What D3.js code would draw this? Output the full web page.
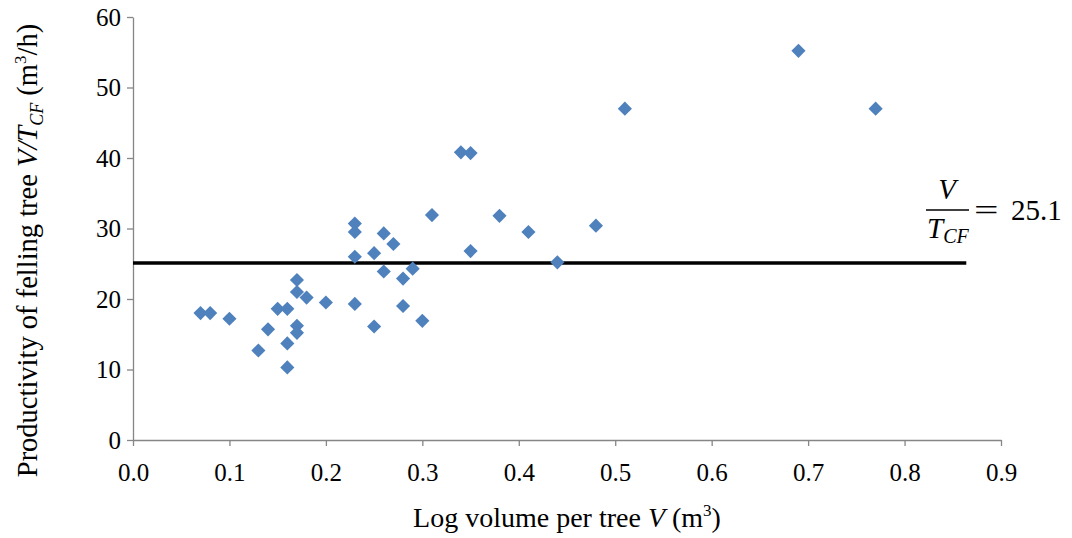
<!DOCTYPE html>
<html>
<head>
<meta charset="utf-8">
<script src="https://cdn.jsdelivr.net/npm/d3@7"></script>
<style>
  body { margin: 0; background: #fff; }
  text { font-family: "Liberation Serif", "Times New Roman", serif; fill: #000; }
</style>
</head>
<body>
<svg id="chart"></svg>
<script>
var width = 1072;
var height = 538;
var margin = { top: 17, right: 71, bottom: 98, left: 133 };

// log volume per tree (m3)
var volume = [0.07, 0.08, 0.10, 0.13, 0.14, 0.15, 0.16, 0.16, 0.16, 0.17,
              0.17, 0.17, 0.17, 0.18, 0.20, 0.23, 0.23, 0.23, 0.23, 0.25,
              0.25, 0.26, 0.26, 0.27, 0.28, 0.28, 0.29, 0.30, 0.31, 0.34,
              0.35, 0.35, 0.38, 0.41, 0.44, 0.48, 0.51, 0.69, 0.77];
// productivity V/TCF (m3/h)
var productivity = [18.0, 18.0, 17.2, 12.7, 15.7, 18.6, 18.6, 13.7, 10.3, 22.7,
                    21.0, 16.2, 15.2, 20.2, 19.5, 30.7, 29.5, 26.0, 19.3, 26.5,
                    16.1, 29.3, 23.9, 27.8, 22.9, 19.0, 24.3, 16.9, 31.9, 40.8,
                    40.7, 26.8, 31.8, 29.5, 25.2, 30.4, 47.0, 55.2, 47.0];

var xTicks = [0, 0.1, 0.2, 0.3, 0.4, 0.5, 0.6, 0.7, 0.8, 0.9];
var yTicks = [0, 10, 20, 30, 40, 50, 60];
var meanValue = 25.1;
var meanLineEnd = 0.864;

var points = volume.map(function(v, i) { return { v: v, p: productivity[i] }; });

var w = width - margin.left - margin.right;
var h = height - margin.top - margin.bottom;

var svg = d3.select('#chart')
  .attr('width', width)
  .attr('height', height);

var g = svg.append('g')
  .attr('transform', 'translate(' + margin.left + ',' + margin.top + ')');

var x = d3.scaleLinear().domain([0, 0.9]).range([0, w]);
var y = d3.scaleLinear().domain([0, 60]).range([h, 0]);

// x axis
var xAxis = g.append('g')
  .attr('transform', 'translate(0,' + h + ')')
  .call(d3.axisBottom(x).tickValues(xTicks).tickFormat(d3.format('.1f')).tickSize(6).tickSizeOuter(0));

// y axis
var yAxis = g.append('g')
  .call(d3.axisLeft(y).tickValues(yTicks).tickSize(6).tickSizeOuter(0));

[xAxis, yAxis].forEach(function(a) {
  a.attr('font-family', null).attr('font-size', null);
  a.select('.domain').attr('stroke', '#868686').attr('stroke-width', 1.3);
  a.selectAll('.tick line').attr('stroke', '#868686').attr('stroke-width', 1.3);
  a.selectAll('.tick text')
    .style('font-size', '25px')
    .attr('fill', '#000');
});
xAxis.selectAll('.tick text').attr('y', 0).attr('dy', 41);
yAxis.selectAll('.tick text').attr('x', -12).attr('dy', 8);

// mean line
g.append('line')
  .attr('x1', x(0))
  .attr('x2', x(meanLineEnd))
  .attr('y1', y(meanValue))
  .attr('y2', y(meanValue))
  .attr('stroke', '#000')
  .attr('stroke-width', 3.5);

// diamonds
var diamond = d3.symbol().type(d3.symbolSquare).size(100);
g.selectAll('.pt')
  .data(points)
  .enter()
  .append('path')
  .attr('class', 'pt')
  .attr('d', diamond)
  .attr('transform', function(d) { return 'translate(' + x(d.v) + ',' + y(d.p) + ') rotate(45)'; })
  .attr('fill', '#4F81BD');

// annotation  V / TCF = 25.1
var ann = svg.append('g').attr('transform', 'translate(947,0)');
ann.append('text')
  .attr('x', 0).attr('y', 199)
  .attr('text-anchor', 'middle')
  .style('font-size', '29px').style('font-style', 'italic')
  .text('V');
ann.append('line')
  .attr('x1', -21).attr('x2', 22)
  .attr('y1', 210).attr('y2', 210)
  .attr('stroke', '#000').attr('stroke-width', 1.4);
var tcf = ann.append('text')
  .attr('x', -20).attr('y', 238)
  .style('font-size', '29px').style('font-style', 'italic');
tcf.append('tspan').text('T');
tcf.append('tspan').attr('dy', 5).style('font-size', '20px').text('CF');
ann.append('text')
  .attr('transform', 'translate(27,220) scale(1.5,1)')
  .style('font-size', '29px')
  .text('=');
ann.append('text')
  .attr('x', 64).attr('y', 220)
  .style('font-size', '29px')
  .text('25.1');

// x axis title
var xt = svg.append('text')
  .attr('x', margin.left + w / 2)
  .attr('y', 527)
  .attr('text-anchor', 'middle')
  .style('font-size', '28px');
xt.append('tspan').text('Log volume per tree ');
xt.append('tspan').style('font-style', 'italic').text('V');
xt.append('tspan').text(' (m');
xt.append('tspan').attr('dy', -11).style('font-size', '17px').text('3');
xt.append('tspan').attr('dy', 11).text(')');

// y axis title
var yt = svg.append('text')
  .attr('transform', 'translate(37,' + (margin.top + h / 2 + 22) + ') rotate(-90)')
  .attr('text-anchor', 'middle')
  .style('font-size', '28.5px');
yt.append('tspan').text('Productivity of felling tree ');
yt.append('tspan').style('font-style', 'italic').text('V/T');
yt.append('tspan').attr('dy', 6).style('font-style', 'italic').style('font-size', '18px').text('CF');
yt.append('tspan').attr('dy', -6).text(' (m');
yt.append('tspan').attr('dy', -11).style('font-size', '17px').text('3');
yt.append('tspan').attr('dy', 11).text('/h)');
</script>
</body>
</html>
